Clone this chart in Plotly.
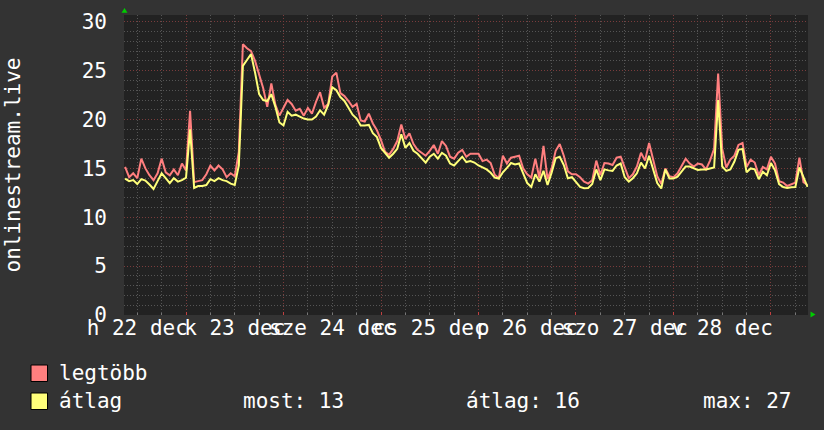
import plotly.graph_objects as go
import pandas as pd

# ---------------- data ----------------
start_time = "2014-12-22 09:00"
n_points = 169  # hourly samples
times = pd.date_range(start_time, periods=n_points, freq="h")

legtobb = [
    15.15, 14.1, 14.5, 14.0, 16.0, 15.0, 14.3, 13.8, 14.5, 16.0,
    14.6, 14.3, 14.9, 14.3, 15.5, 14.8, 20.9, 13.6, 13.7, 13.8,
    14.4, 15.3, 14.8, 15.3, 14.9, 14.1, 14.5, 14.2, 16.7, 27.7,
    27.3, 27.0, 26.0, 24.6, 23.2, 21.3, 23.7, 21.5, 20.4, 21.2,
    22.0, 21.6, 20.9, 21.1, 20.4, 21.2, 20.6, 21.8, 22.8, 21.2,
    21.6, 24.4, 24.8, 22.7, 22.4, 21.9, 21.3, 21.6, 19.9, 19.8,
    20.6, 19.6, 18.9, 17.9, 16.7, 16.4, 17.0, 17.8, 19.5, 18.0,
    18.6, 17.5, 16.9, 16.6, 16.3, 16.8, 17.4, 16.5, 17.8, 17.3,
    16.2, 16.0, 16.6, 16.9, 16.2, 16.5, 16.5, 16.5, 15.75, 15.9,
    15.55, 14.35, 14.0, 16.3, 15.5, 16.1, 16.2, 16.3, 15.0, 14.4,
    14.06, 16.0, 14.0, 17.3, 13.9, 15.0, 16.8, 17.5, 16.3, 14.7,
    14.4, 14.4, 14.1, 13.65, 13.45, 13.8, 15.8, 14.3, 15.55, 15.5,
    15.35, 16.1, 16.2, 15.1, 14.0, 14.4, 15.2, 16.6, 15.8, 17.6,
    15.9, 14.2, 13.4, 15.0, 14.2, 14.1, 14.5, 15.2, 16.0, 15.5,
    15.2, 15.5, 15.4, 14.9, 15.8, 17.0, 24.7, 17.0, 15.1, 15.9,
    16.3, 17.4, 17.6, 15.15, 15.9, 15.6, 14.3, 15.15, 14.9, 16.2,
    15.5, 13.7, 13.55, 13.2, 13.4, 13.55, 16.1, 13.6, 13.3,
]

atlag = [
    13.96, 13.7, 13.8, 13.4, 13.9, 13.75, 13.35, 12.9, 13.7, 14.5,
    14.0, 13.5, 14.0, 13.65, 13.8, 14.06, 19.0, 13.0, 13.2, 13.2,
    13.3, 13.9, 13.7, 14.0, 13.8, 13.7, 13.45, 13.3, 15.3, 25.5,
    26.1, 26.7, 24.8, 22.6, 22.0, 21.9, 22.6, 21.3, 19.7, 19.4,
    20.8, 20.4, 20.5, 20.3, 20.1, 20.0, 20.0, 20.3, 20.95, 20.5,
    21.5, 23.3, 23.0, 22.3, 21.9, 21.2, 20.5, 20.1, 19.4, 19.4,
    19.45, 18.6, 18.2, 17.1, 16.6, 16.1, 16.5, 17.0, 18.5, 17.1,
    17.6, 16.8, 16.5, 16.1, 15.6, 16.2, 16.5, 16.0, 16.6, 16.3,
    15.5, 15.3, 15.8, 16.2, 15.65, 15.75, 15.6, 15.3, 15.1, 14.9,
    14.55, 14.06, 13.96, 14.6, 15.05, 15.55, 15.4, 15.5, 14.5, 13.5,
    13.1, 14.4, 13.65, 14.75, 13.3, 14.55, 16.05, 16.2, 15.35, 14.0,
    14.1, 13.6, 13.1, 12.97, 13.0, 13.4, 14.9, 13.8, 14.9, 14.8,
    14.75, 15.3, 15.5, 14.1, 13.65, 14.0, 14.5, 15.6, 15.0, 16.3,
    14.9, 13.5, 12.95, 14.9, 13.96, 13.96, 14.15, 14.65, 15.2, 15.2,
    15.0, 14.85, 14.9, 14.9, 15.0, 15.1, 22.0, 15.2, 14.75, 14.9,
    15.7, 16.9, 17.0, 14.6, 15.0, 14.9, 13.9, 14.65, 14.3, 15.55,
    14.8, 13.4, 13.1, 13.0, 13.07, 13.1, 15.1, 14.15, 13.1,
]

day_labels = ["h 22 dec", "k 23 dec", "sze 24 dec", "cs 25 dec",
              "p 26 dec", "szo 27 dec", "v 28 dec"]
label_times = pd.date_range("2014-12-22 12:00", periods=len(day_labels), freq="D")

series_names = ["legtöbb", "átlag"]
series_colors = ["#ff7f7f", "#ffff7a"]
y_title = "onlinestream.live"
x_range = ["2014-12-22 08:44", "2014-12-29 09:07"]
y_range = [0, 30.7]

stat_names = ["most", "átlag", "max"]
stat_values = [atlag[-1], sum(atlag) / len(atlag), max(atlag)]

# ---------------- style ----------------
FONT = "DejaVu Sans Mono"
FS = 21
W, H = 824, 430
ML, MR, MT, MB = 124, 16, 15, 115
PW, PH = W - ML - MR, H - MT - MB
PAPER = "#333333"
CANVAS = "#222222"
MINOR = "#555555"
MAJOR = "#7a3c3c"
TXT = "#ffffff"
DOT = "1px,2px"


def px(x):
    return (x - ML) / PW


def py(y):
    return (H - MB - y) / PH


fig = go.Figure()
fig.add_trace(go.Scatter(x=times, y=legtobb, mode="lines", name=series_names[0],
                         line=dict(color=series_colors[0], width=2), showlegend=False))
fig.add_trace(go.Scatter(x=times, y=atlag, mode="lines", name=series_names[1],
                         line=dict(color=series_colors[1], width=2), showlegend=False))
# carrier for the label axis
fig.add_trace(go.Scatter(x=[label_times[0]], y=[None], xaxis="x2", mode="lines",
                         showlegend=False, hoverinfo="skip"))

fig.update_layout(
    width=W, height=H,
    margin=dict(l=ML, r=MR, t=MT, b=MB, autoexpand=False),
    paper_bgcolor=PAPER, plot_bgcolor=CANVAS,
    font=dict(family=FONT, size=FS, color=TXT),
    showlegend=False,
    xaxis=dict(
        type="date", range=x_range, showticklabels=False,
        tick0="2014-12-22", dtick=86400000,
        showgrid=True, gridcolor=MAJOR, griddash=DOT, gridwidth=1,
        ticks="inside", ticklen=3, tickcolor="#c04040",
        minor=dict(tick0="2014-12-22", dtick=6 * 3600 * 1000, showgrid=True,
                   gridcolor=MINOR, griddash=DOT, ticks="inside", ticklen=2,
                   tickcolor="#777777"),
        zeroline=False, showline=False, fixedrange=True,
    ),
    xaxis2=dict(
        type="date", overlaying="x", matches="x", anchor="y", side="bottom",
        tickmode="array", tickvals=list(label_times), ticktext=day_labels,
        tickangle=0, showgrid=False, ticks="", zeroline=False, showline=False,
        tickfont=dict(family=FONT, size=FS, color=TXT), ticklabelstandoff=-2,
    ),
    yaxis=dict(
        range=y_range, tick0=0, dtick=5,
        showgrid=True, gridcolor=MAJOR, griddash=DOT, gridwidth=1,
        minor=dict(dtick=1, showgrid=True, gridcolor=MINOR, griddash=DOT),
        zeroline=False, showline=False, ticks="",
        tickfont=dict(family=FONT, size=FS, color=TXT), ticklabelstandoff=16,
        title=dict(text=y_title, font=dict(family=FONT, size=FS, color=TXT), standoff=55),
        automargin=False, fixedrange=True,
    ),
)

# axis arrows (RRD style)
arrow_col = "#00cc00"
fig.add_shape(type="path", xref="paper", yref="paper",
              path=f"M {px(121.5)},{py(12.8)} L {px(127.5)},{py(12.8)} L {px(124.5)},{py(8)} Z",
              fillcolor=arrow_col, line=dict(width=0))
fig.add_shape(type="path", xref="paper", yref="paper",
              path=f"M {px(810.5)},{py(311.5)} L {px(810.5)},{py(317.5)} L {px(815.5)},{py(314.5)} Z",
              fillcolor=arrow_col, line=dict(width=0))

# legend
rows = [373, 401]
for i, (name, col) in enumerate(zip(series_names, series_colors)):
    top = 365 + 28 * i
    fig.add_shape(type="rect", xref="paper", yref="paper",
                  x0=px(31), x1=px(47.5), y0=py(top + 16.5), y1=py(top),
                  fillcolor=col, line=dict(color="#000000", width=1))
    fig.add_annotation(xref="paper", yref="paper", x=px(57), y=py(rows[i]),
                       text=name, showarrow=False, xanchor="left", yanchor="middle",
                       font=dict(family=FONT, size=FS, color=TXT))

stat_x = [241, 464, 701]
for name, val, sx in zip(stat_names, stat_values, stat_x):
    fig.add_annotation(xref="paper", yref="paper", x=px(sx), y=py(rows[1]),
                       text=f"{name}: {round(val)}", showarrow=False,
                       xanchor="left", yanchor="middle",
                       font=dict(family=FONT, size=FS, color=TXT))

fig.write_html("out.html",
               config={"displayModeBar": False},
               post_script="document.body.style.margin='0';"
                           "document.body.style.background='" + PAPER + "';")
